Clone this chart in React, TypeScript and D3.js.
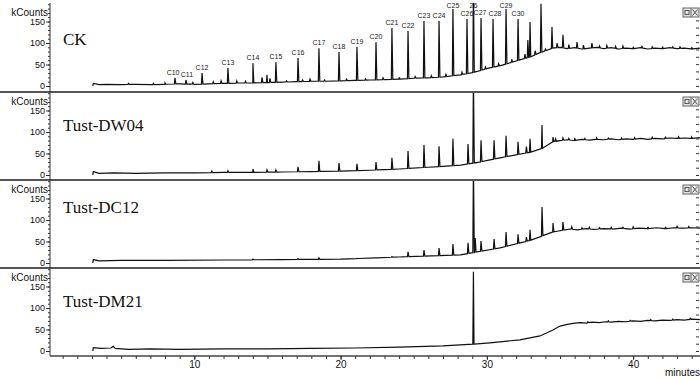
import React, { useEffect, useRef } from "react";
import * as d3 from "d3";

// retention time axis (minutes) and intensity axis (kCounts)
const X_MAJOR = [10, 20, 30, 40];
const X_MINOR = d3.range(1, 45, 1);
const Y_MAJOR = [0, 50, 100, 150];
const Y_MINOR = d3.range(0, 191, 10);
const RIGHT_TICKS = d3.range(0, 101, 10);

const SAMPLES = ["CK", "Tust-DW04", "Tust-DC12", "Tust-DM21"];

// baseline anchors [minutes, kCounts]
const ckBase = [
  [3.06, 0], [3.1, 6], [3.5, 3], [4, 4], [5, 3], [6, 4], [7, 3], [8, 4], [9, 5], [10, 4],
  [11, 5], [12, 6], [13, 7], [14, 7], [15, 8], [16, 9], [17, 10], [18, 11], [19, 11], [20, 12],
  [21, 13], [22, 14], [23, 15], [24, 16], [25, 18], [26, 19], [27, 21], [28.2, 26], [29, 31],
  [30.2, 42], [31, 48], [32.2, 60], [33, 68], [33.6, 77], [34.5, 88], [35, 90], [35.5, 87],
  [36, 89], [36.5, 86], [37, 88], [37.5, 90], [38, 87], [38.5, 89], [39, 86], [39.5, 88],
  [40, 87], [40.5, 89], [41, 86], [41.5, 88], [42, 87], [42.5, 89], [43, 87], [43.5, 88],
  [44, 86], [44.6, 88],
];
const dw04Base = [
  [3.06, 0], [3.1, 8], [3.5, 4], [4.5, 5], [6, 4], [8, 5], [10, 5], [12, 6], [14, 6], [16, 7],
  [18, 8], [20, 9], [22, 11], [24, 14], [26, 18], [28.2, 23], [29.5, 30], [30.9, 40], [32, 47],
  [33, 53], [33.8, 62], [34.5, 77], [35, 80], [35.5, 82], [36, 80], [36.5, 83], [37, 81],
  [37.5, 83], [38, 82], [38.5, 84], [39, 82], [39.5, 84], [40, 83], [40.5, 85], [41, 83],
  [41.5, 85], [42, 84], [42.5, 86], [43, 85], [43.5, 86], [44, 85], [44.6, 87],
];
const dc12Base = [
  [3.06, 0], [3.1, 8], [3.5, 5], [5, 6], [8, 6], [12, 7], [16, 8], [20, 9], [24, 14],
  [28.2, 19], [30.9, 35], [33, 53], [34.5, 72], [35, 75], [35.7, 79], [36.2, 77], [36.8, 80],
  [37.3, 78], [38, 80], [38.6, 79], [39.2, 81], [39.8, 79], [40.4, 81], [41, 80], [41.6, 82],
  [42.2, 80], [42.8, 82], [43.4, 81], [44, 82], [44.6, 81],
];
const dm21Base = [
  [3.06, 0], [3.1, 8], [3.6, 6], [4.3, 7], [4.45, 11], [4.6, 6], [5.5, 4], [7, 5], [9, 4],
  [12, 5], [15, 5], [18, 6], [21, 7], [24, 9], [27, 12], [29.12, 16], [30.2, 19], [32.26, 26],
  [33.63, 35], [34.52, 49], [35, 58], [35.5, 62], [36, 65], [36.4, 66], [36.8, 65], [37.2, 67],
  [37.7, 66], [38.1, 68], [38.5, 67], [39, 69], [39.5, 68], [40, 70], [40.5, 69], [41, 71],
  [41.5, 70], [42, 72], [42.5, 71], [43, 73], [43.5, 72], [44, 74], [44.6, 73],
];

// peak apexes [minutes, kCounts]
const ckPeaks = [
  [5.5, 6], [7.2, 6], [8.0, 7], [8.68, 19], [9.43, 14], [9.9, 8], [10.53, 30], [11.3, 10],
  [11.83, 12], [12.3, 42], [12.9, 12], [13.5, 11], [14.01, 53], [14.63, 20], [14.97, 26],
  [15.17, 18], [15.58, 56], [16.3, 12], [17.09, 65], [17.4, 14], [17.91, 16], [18.52, 88],
  [18.9, 14], [19.89, 79], [20.4, 16], [21.12, 91], [21.7, 17], [22.42, 102], [22.9, 19],
  [23.51, 135], [24.0, 20], [24.61, 128], [25.1, 22], [25.7, 151], [26.2, 24], [26.73, 151],
  [27.2, 27], [27.68, 179], [28.3, 32], [28.64, 156], [29.08, 230], [29.6, 158], [29.9, 44],
  [30.42, 156], [30.8, 52], [31.31, 179], [31.7, 62], [32.13, 156], [32.6, 74], [32.8, 107],
  [32.95, 149], [33.3, 82], [33.7, 191], [34.0, 86], [34.45, 137], [34.8, 100], [35.2, 119],
  [35.6, 96], [36.16, 102], [36.6, 95], [37.18, 100], [37.7, 93], [38.2, 94], [38.8, 92],
  [39.3, 93], [40.0, 91], [40.6, 92], [41.3, 91], [42.0, 92], [42.7, 91], [43.2, 91],
  [44.0, 90],
];
const dw04Peaks = [
  [11.2, 9], [12.3, 10], [14.01, 14], [14.97, 12], [15.58, 12], [17.09, 19], [18.52, 33],
  [19.89, 28], [21.12, 26], [22.42, 30], [23.51, 40], [24.61, 56], [25.7, 70], [26.73, 67],
  [27.68, 84], [28.71, 72], [29.08, 230], [29.6, 81], [30.49, 81], [31.31, 91], [32.13, 77],
  [32.7, 66], [32.95, 84], [33.77, 116], [34.52, 88], [34.7, 84], [35.2, 86], [35.6, 85],
  [36.0, 86], [36.7, 85], [37.5, 86], [38.3, 86], [39.2, 86], [40.1, 87], [41.3, 88],
  [42.2, 88], [43.1, 89], [44.0, 88],
];
const dc12Peaks = [
  [14.01, 9], [17.09, 10], [18.52, 12], [21.12, 11], [22.42, 12], [23.51, 15], [24.61, 26],
  [25.7, 30], [26.73, 35], [27.68, 44], [28.71, 47], [29.08, 230], [29.2, 58], [29.6, 51],
  [30.49, 56], [31.31, 72], [32.13, 67], [32.7, 60], [32.95, 77], [33.77, 130], [34.52, 93],
  [35.2, 95], [35.8, 84], [36.5, 82], [37.0, 83], [37.7, 82], [38.5, 83], [39.3, 83],
  [40.0, 84], [41.0, 84], [42.2, 84], [43.0, 85], [43.8, 85],
];
const dm21Peaks = [
  [29.08, 184], [36.9, 68], [38.3, 70], [39.8, 71], [41.2, 73], [42.7, 74], [43.9, 76],
];

// n-alkane labels on the CK trace [label, minutes]
const ckLabels: [string, number][] = [
  ["C10", 8.55], ["C11", 9.5], ["C12", 10.53], ["C13", 12.3], ["C14", 14.01], ["C15", 15.58],
  ["C16", 17.09], ["C17", 18.52], ["C18", 19.89], ["C19", 21.12], ["C20", 22.42],
  ["C21", 23.51], ["C22", 24.61], ["C23", 25.7], ["C24", 26.73], ["C25", 27.68],
  ["C26", 28.64], ["26", 29.08], ["C27", 29.6], ["C28", 30.42], ["C29", 31.31], ["C30", 32.13],
];

const BASES = [ckBase, dw04Base, dc12Base, dm21Base];
const PEAKS = [ckPeaks, dw04Peaks, dc12Peaks, dm21Peaks];

const W = 700;
const H = 378;
const AXIS_X = 50;
const PANEL_TOPS = [3, 92, 180, 268];
const PANEL_H = 88;
const TITLE_Y = [42, 39, 33, 39];
const SANS = "Liberation Sans, Arial, sans-serif";

const xScale = d3.scaleLinear().domain([0, 44.5]).range([48, 699]);

function buildTrace(base: number[][], peaks: number[][]) {
  const baseAt = d3
    .scaleLinear()
    .domain(base.map((d) => d[0]))
    .range(base.map((d) => d[1]))
    .clamp(true);
  const pts: [number, number][] = base.map((d) => [d[0], d[1]]);
  peaks.forEach(([t, v]) => {
    pts.push([t - 0.04, baseAt(t - 0.04)], [t, v], [t + 0.06, baseAt(t + 0.06)]);
  });
  pts.sort((a, b) => a[0] - b[0]);
  return pts;
}

const Axis = ({ scale, orient, transform, values, size, labels, fontSize = 9 }: any) => {
  const ref = useRef<SVGGElement>(null);
  useEffect(() => {
    const gen = orient === "bottom" ? d3.axisBottom(scale) : d3.axisLeft(scale);
    gen.tickValues(values).tickSizeInner(size).tickSizeOuter(0).tickPadding(1);
    if (!labels) gen.tickFormat(() => "");
    const g = d3.select(ref.current);
    g.call(gen as any);
    g.select(".domain").remove();
    g.selectAll("line").attr("stroke", "#333");
    g.selectAll("text")
      .attr("font-family", SANS)
      .attr("font-size", fontSize)
      .attr("fill", "#111");
  }, [scale, orient, values, size, labels]);
  return <g ref={ref} transform={transform} />;
};

const Panel = ({ index }: { index: number }) => {
  const top = PANEL_TOPS[index];
  const bottom = top + PANEL_H;
  const yScale = d3.scaleLinear().domain([0, 193]).range([bottom - 5, top]);
  const rightScale = d3.scaleLinear().domain([0, 100]).range([bottom - 5, bottom - 78]);
  const pts = buildTrace(BASES[index], PEAKS[index]);
  const line = d3
    .line<[number, number]>()
    .x((d) => xScale(d[0]))
    .y((d) => yScale(d[1]));
  const clipId = `clip-${index}`;
  const apexAt = new Map(PEAKS[index].map((d) => [d[0], d[1]]));

  return (
    <g>
      <defs>
        <clipPath id={clipId}>
          <rect x={AXIS_X} y={top} width={W - AXIS_X} height={PANEL_H} />
        </clipPath>
      </defs>
      <path
        d={line(pts) || ""}
        fill="none"
        stroke="#111"
        strokeWidth={1.2}
        clipPath={`url(#${clipId})`}
      />
      {index === 0 &&
        ckLabels.map(([name, t]) => {
          const v = apexAt.get(t) ?? d3.max(PEAKS[0], (d) => (Math.abs(d[0] - t) < 0.2 ? d[1] : 0))!;
          const y = Math.max(yScale(v) - 3, top + 5);
          const nudge = name === "C28" ? 2 : name === "C27" ? -1 : 0;
          return (
            <text
              key={name}
              x={xScale(t) + nudge}
              y={y}
              textAnchor="middle"
              fontFamily={SANS}
              fontSize={7}
              fill="#222"
            >
              {name}
            </text>
          );
        })}
      <text
        x={63}
        y={top + TITLE_Y[index]}
        fontFamily="Liberation Serif, Times New Roman, serif"
        fontSize={17}
        fill="#111"
      >
        {SAMPLES[index]}
      </text>
      <text x={48} y={top + 13} textAnchor="end" fontFamily={SANS} fontSize={10} fill="#111">
        kCounts
      </text>
      <Axis scale={yScale} orient="left" transform={`translate(${AXIS_X},0)`} values={Y_MINOR} size={2} labels={false} />
      <Axis scale={yScale} orient="left" transform={`translate(${AXIS_X},0)`} values={Y_MAJOR} size={4} labels={true} />
      <Axis scale={rightScale} orient="left" transform={`translate(${W - 1},0)`} values={RIGHT_TICKS} size={3} labels={false} />
      <g>
        <rect x={683} y={top + 5} width={16} height={9} fill="#e4e4e4" stroke="#666" strokeWidth={1} />
        <line x1={691} x2={691} y1={top + 5} y2={top + 14} stroke="#666" />
        <rect x={685} y={top + 7.5} width={4} height={4} fill="none" stroke="#555" />
        <line x1={692.5} x2={697.5} y1={top + 6.5} y2={top + 12.5} stroke="#555" />
        <line x1={697.5} x2={692.5} y1={top + 6.5} y2={top + 12.5} stroke="#555" />
      </g>
    </g>
  );
};

export default function App() {
  const lastBottom = PANEL_TOPS[3] + PANEL_H;
  return (
    <svg width={W} height={H} style={{ position: "absolute", left: 0, top: 0, background: "#fff" }}>
      <rect width={W} height={H} fill="#fff" />
      {SAMPLES.map((_, i) => (
        <Panel key={i} index={i} />
      ))}
      {PANEL_TOPS.slice(1).map((t) => (
        <line key={t} x1={0} x2={W} y1={t} y2={t} stroke="#555" strokeWidth={2} />
      ))}
      <line x1={AXIS_X} x2={AXIS_X} y1={PANEL_TOPS[0]} y2={lastBottom} stroke="#333" strokeWidth={1} />
      <line x1={AXIS_X} x2={W} y1={lastBottom} y2={lastBottom} stroke="#444" strokeWidth={1.5} />
      <Axis scale={xScale} orient="bottom" transform={`translate(0,${lastBottom})`} values={X_MINOR} size={3} labels={false} />
      <Axis scale={xScale} orient="bottom" transform={`translate(0,${lastBottom})`} values={X_MAJOR} size={4} labels={true} fontSize={10} />
      <text x={665} y={376} fontFamily={SANS} fontSize={10} fill="#111">
        minutes
      </text>
    </svg>
  );
}
